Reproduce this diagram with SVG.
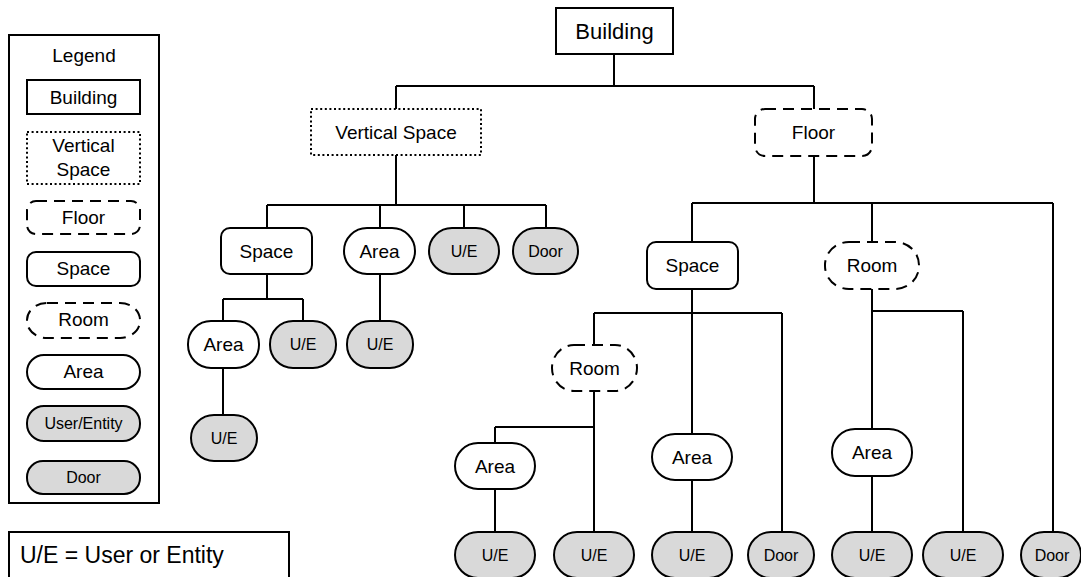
<svg xmlns="http://www.w3.org/2000/svg" width="1081" height="577" viewBox="0 0 1081 577">
  <style>
    text { font-family: "Liberation Sans", Arial, sans-serif; fill: #000; text-anchor: middle; }
    .t19 { font-size: 19px; }
    .t16 { font-size: 16px; }
    .box { fill: #fff; stroke: #000; stroke-width: 2; }
    .dot { fill: #fff; stroke: #000; stroke-width: 2; stroke-dasharray: 2 2.6; }
    .dash { fill: #fff; stroke: #000; stroke-width: 2; stroke-dasharray: 11 7; }
    .ue { fill: #d9d9d9; stroke: #000; stroke-width: 2; }
    .wire { fill: none; stroke: #000; stroke-width: 2; }
  </style>

  <!-- Legend panel -->
  <g id="legend">
    <rect class="box" x="9" y="35" width="150" height="468"/>
    <text class="t19" x="84" y="62">Legend</text>
    <rect class="box" x="27" y="80" width="113" height="34"/>
    <text class="t19" x="83.5" y="104">Building</text>
    <rect class="dot" x="27" y="132" width="113" height="52"/>
    <text class="t19" x="83.5" y="152">Vertical</text>
    <text class="t19" x="83.5" y="176">Space</text>
    <rect class="dash" x="27" y="201" width="113" height="33" rx="9"/>
    <text class="t19" x="83.5" y="224">Floor</text>
    <rect class="box" x="27" y="252" width="113" height="34" rx="9"/>
    <text class="t19" x="83.5" y="275">Space</text>
    <rect class="dash" x="27" y="303" width="113" height="35" rx="20" ry="17"/>
    <text class="t19" x="83.5" y="326">Room</text>
    <rect class="box" x="27" y="355" width="113" height="34" rx="17"/>
    <text class="t19" x="83.5" y="378">Area</text>
    <rect class="ue" x="27" y="406" width="113" height="35" rx="17"/>
    <text class="t16" x="83.5" y="429">User/Entity</text>
    <rect class="ue" x="27" y="461" width="113" height="33" rx="16"/>
    <text class="t16" x="83.5" y="483">Door</text>
  </g>

  <!-- Abbreviation note -->
  <g id="note">
    <rect class="box" x="9" y="532" width="280" height="60"/>
    <text x="20" y="563" style="font-size:23px;text-anchor:start">U/E = User or Entity</text>
  </g>

  <!-- Connectors -->
  <g id="connectors" class="wire">
    <path class="wire" d="M614 54V86M396 86H814M396 86V109M814 86V109"/>
    <path class="wire" d="M396 155V205M267 205H546M267 205V228M380 205V228M464 205V228M546 205V228"/>
    <path class="wire" d="M267 274V299M223 299H303M223 299V321M303 299V321"/>
    <path class="wire" d="M380 274V321"/>
    <path class="wire" d="M223 368V415"/>
    <path class="wire" d="M814 156V203M692 203H1053M692 203V242M872 203V242M1053 203V532"/>
    <path class="wire" d="M692 289V434M594 313H782M594 313V345M782 313V532"/>
    <path class="wire" d="M594 391V532M495 427H594M495 427V443"/>
    <path class="wire" d="M495 489V532"/>
    <path class="wire" d="M692 480V532"/>
    <path class="wire" d="M872 289V429M872 311H963M963 311V532"/>
    <path class="wire" d="M872 476V532"/>
  </g>

  <!-- Top level -->
  <g id="building">
    <rect class="box" x="556" y="8" width="117" height="46"/>
    <text x="614.5" y="39" style="font-size:22px">Building</text>
  </g>
  <g id="vertical-space">
    <rect class="dot" x="311" y="109" width="170" height="46"/>
    <text class="t19" x="396" y="139">Vertical Space</text>
  </g>
  <g id="floor">
    <rect class="dash" x="755" y="109" width="117" height="47" rx="10"/>
    <text class="t19" x="813.5" y="139">Floor</text>
  </g>

  <!-- Vertical space branch -->
  <g id="vs-space">
    <rect class="box" x="221" y="228" width="91" height="46" rx="9"/>
    <text class="t19" x="266.5" y="258">Space</text>
  </g>
  <g id="vs-area">
    <rect class="box" x="344" y="228" width="71" height="46" rx="23"/>
    <text class="t19" x="379.5" y="258">Area</text>
  </g>
  <g id="vs-ue">
    <rect class="ue" x="429" y="228" width="70" height="46" rx="23"/>
    <text class="t16" x="464" y="257">U/E</text>
  </g>
  <g id="vs-door">
    <rect class="ue" x="513" y="228" width="65" height="46" rx="23"/>
    <text class="t16" x="545.5" y="257">Door</text>
  </g>
  <g id="vs-space-area">
    <rect class="box" x="188" y="321" width="71" height="47" rx="23"/>
    <text class="t19" x="223.5" y="351">Area</text>
  </g>
  <g id="vs-space-ue">
    <rect class="ue" x="270" y="321" width="66" height="47" rx="23"/>
    <text class="t16" x="303" y="350">U/E</text>
  </g>
  <g id="vs-area-ue">
    <rect class="ue" x="347" y="321" width="66" height="47" rx="23"/>
    <text class="t16" x="380" y="350">U/E</text>
  </g>
  <g id="vs-space-area-ue">
    <rect class="ue" x="191" y="415" width="66" height="46" rx="23"/>
    <text class="t16" x="224" y="444">U/E</text>
  </g>

  <!-- Floor branch -->
  <g id="fl-space">
    <rect class="box" x="647" y="242" width="91" height="47" rx="9"/>
    <text class="t19" x="692.5" y="272">Space</text>
  </g>
  <g id="fl-room">
    <rect class="dash" x="825" y="242" width="94" height="47" rx="24" ry="23"/>
    <text class="t19" x="872" y="272">Room</text>
  </g>
  <g id="fl-space-room">
    <rect class="dash" x="552" y="345" width="85" height="46" rx="22" ry="23"/>
    <text class="t19" x="594.5" y="375">Room</text>
  </g>
  <g id="fl-room-area">
    <rect class="box" x="455" y="443" width="80" height="46" rx="23"/>
    <text class="t19" x="495" y="473">Area</text>
  </g>
  <g id="fl-space-area">
    <rect class="box" x="652" y="434" width="80" height="46" rx="23"/>
    <text class="t19" x="692" y="464">Area</text>
  </g>
  <g id="fl-room2-area">
    <rect class="box" x="832" y="429" width="80" height="47" rx="23"/>
    <text class="t19" x="872" y="459">Area</text>
  </g>

  <!-- Bottom row -->
  <g id="b-ue1">
    <rect class="ue" x="455" y="532" width="80" height="46" rx="23"/>
    <text class="t16" x="495" y="561">U/E</text>
  </g>
  <g id="b-ue2">
    <rect class="ue" x="554" y="532" width="80" height="46" rx="23"/>
    <text class="t16" x="594" y="561">U/E</text>
  </g>
  <g id="b-ue3">
    <rect class="ue" x="652" y="532" width="80" height="46" rx="23"/>
    <text class="t16" x="692" y="561">U/E</text>
  </g>
  <g id="b-door1">
    <rect class="ue" x="748" y="532" width="66" height="46" rx="23"/>
    <text class="t16" x="781" y="561">Door</text>
  </g>
  <g id="b-ue4">
    <rect class="ue" x="832" y="532" width="80" height="46" rx="23"/>
    <text class="t16" x="872" y="561">U/E</text>
  </g>
  <g id="b-ue5">
    <rect class="ue" x="923" y="532" width="80" height="46" rx="23"/>
    <text class="t16" x="963" y="561">U/E</text>
  </g>
  <g id="b-door2">
    <rect class="ue" x="1021" y="532" width="60" height="46" rx="23"/>
    <text class="t16" x="1052" y="561">Door</text>
  </g>
</svg>
